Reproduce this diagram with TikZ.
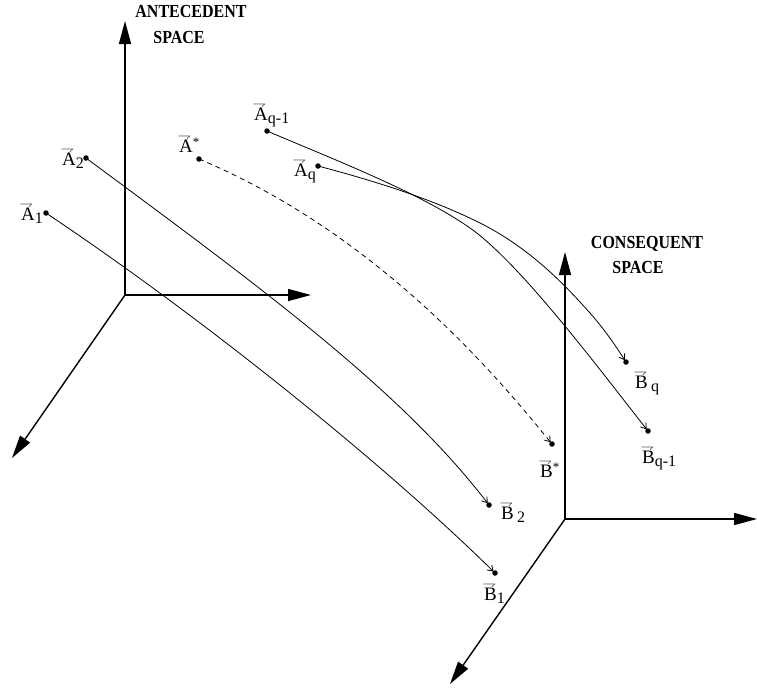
\documentclass[tikz,border=0pt]{standalone}
\usepackage{fontspec}
\setmainfont{Liberation Serif}
\usetikzlibrary{arrows.meta}
\newcommand{\vlet}[1]{\leavevmode\rlap{\kern-1.5pt\raisebox{13pt}{\scalebox{0.8}[0.7]{$\rightharpoondown$}}}#1}
\newcommand{\lsub}[1]{\raisebox{-3pt}{\fontsize{16}{16}\selectfont #1}}
\newcommand{\lsup}[1]{\raisebox{6pt}{\fontsize{13}{13}\selectfont #1}}
\newcommand{\tallbf}[1]{\scalebox{1}[1.15]{#1}}
\tikzset{
  axis/.style={line width=1.4pt, -{Triangle[length=23pt,width=12pt]}},
  traj/.style={line width=0.8pt, shorten >=2.2pt, -{Straight Barb[length=5pt,width=7pt]}},
  dot/.style={circle, fill=black, inner sep=0pt, minimum size=5.5pt},
  lbl/.style={inner sep=0pt, anchor=base west, font=\fontsize{19}{19}\selectfont},
  head/.style={inner sep=0pt, anchor=base, font=\fontsize{16}{16}\selectfont\bfseries}
}
\begin{document}
\begin{tikzpicture}[x=1pt,y=-1pt]
\useasboundingbox (0,0) rectangle (757,694);
% antecedent axes
\coordinate (O1) at (125,295);
\coordinate (O1z) at (125,21);
\coordinate (O1x) at (311,295);
\coordinate (O1y) at (12,458);
\draw[axis] (O1) -- (O1z);
\draw[axis] (O1) -- (O1x);
\draw[axis] (O1) -- (O1y);
% consequent axes
\coordinate (O2) at (565,519);
\coordinate (O2z) at (565,252);
\coordinate (O2x) at (757,519);
\coordinate (O2y) at (450,684);
\draw[axis] (O2) -- (O2z);
\draw[axis] (O2) -- (O2x);
\draw[axis] (O2) -- (O2y);
% headings
\node[head] (h1) at (191,17) {\tallbf{ANTECEDENT}};
\node[head] (h2) at (179,43) {\tallbf{SPACE}};
\node[head] (h3) at (647,248) {\tallbf{CONSEQUENT}};
\node[head] (h4) at (638,273) {\tallbf{SPACE}};
% points
\node[dot] (A1) at (46,213) {};
\node[dot] (A2) at (86,158) {};
\node[dot] (As) at (199,159) {};
\node[dot] (Aq1) at (267,131) {};
\node[dot] (Aq) at (318,166) {};
\node[dot] (B1) at (495,573) {};
\node[dot] (B2) at (489,505) {};
\node[dot] (Bs) at (552,444) {};
\node[dot] (Bq) at (626,362) {};
\node[dot] (Bq1) at (648,431) {};
% labels
\node[lbl] (lA1) at (21,220) {\vlet{A}\lsub{1}};
\node[lbl] (lA2) at (62,165) {\vlet{A}\lsub{2}};
\node[lbl] (lAs) at (179,152) {\vlet{A}\lsup{*}};
\node[lbl] (lAq1) at (254,120) {\vlet{A}\lsub{q-1}};
\node[lbl] (lAq) at (294,176) {\vlet{A}\lsub{q}};
\node[lbl] (lB2) at (501,519) {\vlet{B}\,\lsub{2}};
\node[lbl] (lB1) at (484,600) {\vlet{B}\lsub{1}};
\node[lbl] (lBs) at (540,477) {\vlet{B}\lsup{*}};
\node[lbl] (lBq) at (635,388) {\vlet{B}\,\lsub{q}};
\node[lbl] (lBq1) at (642,463) {\vlet{B}\lsub{q-1}};
% trajectories
\draw[traj] (A1.center) .. controls (200,316) and (380,460) .. (B1.center);
\draw[traj] (A2.center) .. controls (260,287) and (400,389) .. (B2.center);
\draw[traj, dash pattern=on 5pt off 4pt] (As.center) .. controls (380,235) and (500,380) .. (Bs.center);
\draw[traj] (Aq1.center) .. controls (340,162) and (420,193) .. (470,228)
   .. controls (520,263) and (600,370) .. (Bq1.center);
\draw[traj] (Aq.center) .. controls (390,185) and (440,203) .. (480,223)
   .. controls (530,248) and (565,285) .. (590,313)
   .. controls (605,330) and (615,345) .. (Bq.center);
\end{tikzpicture}
\end{document}
